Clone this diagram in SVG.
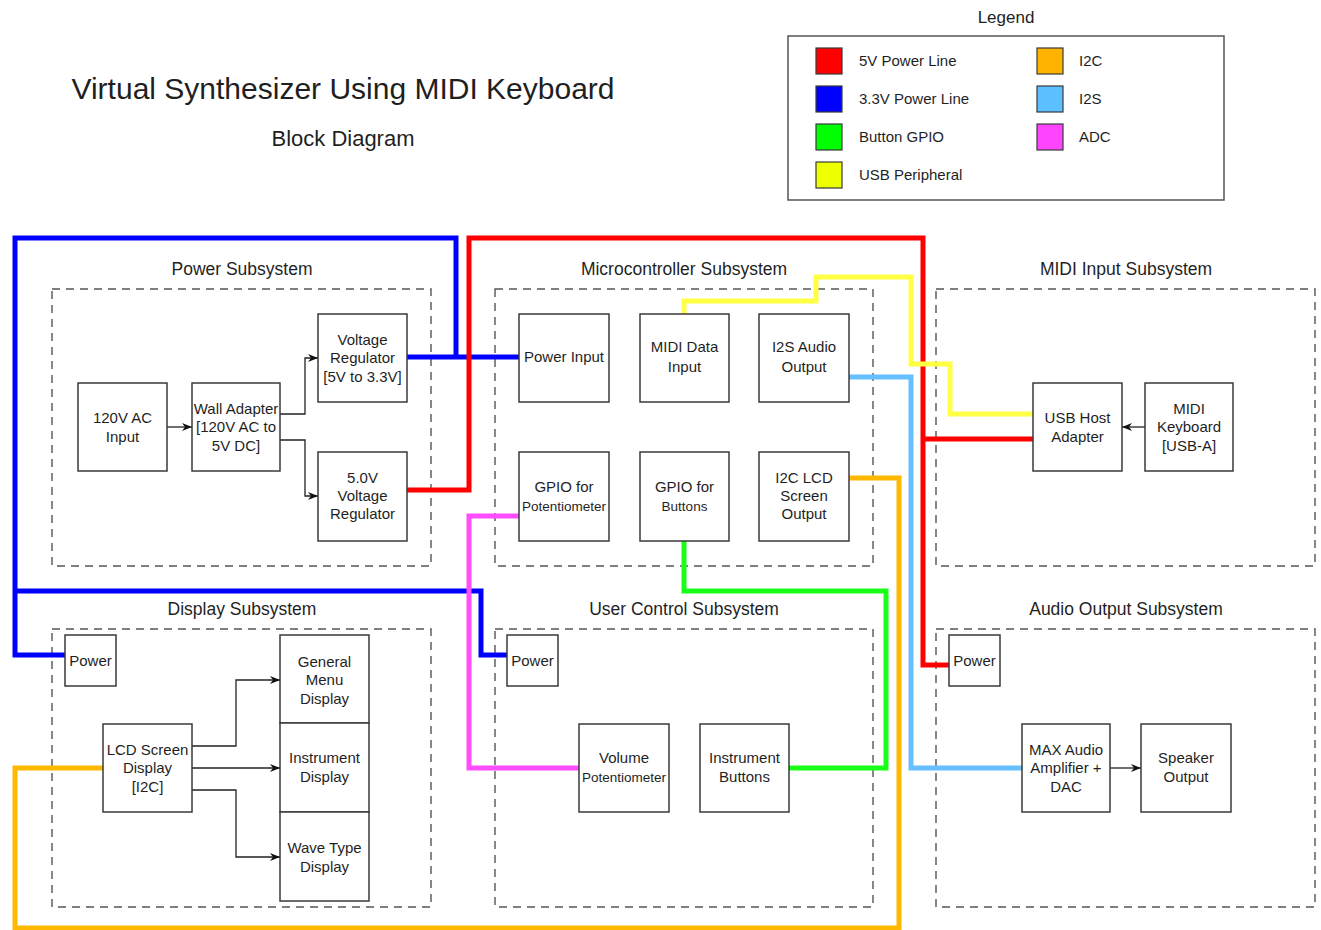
<svg xmlns="http://www.w3.org/2000/svg" width="1321" height="930" viewBox="0 0 1321 930">
  <style>
    text { font-family: "Liberation Sans", Arial, sans-serif; fill: #1f1f1f; }
    .node rect { fill: #ffffff; stroke: #3a3a3a; stroke-width: 1.5; }
    .node text { font-size: 15px; text-anchor: middle; }
    .node text.small { font-size: 13.5px; }
    .group rect { fill: none; stroke: #555555; stroke-width: 1.4; stroke-dasharray: 8 6; }
    .group text { font-size: 17.5px; text-anchor: middle; }
    .bus { fill: none; stroke-width: 5; stroke-linejoin: miter; }
    .flow { fill: none; stroke: #222222; stroke-width: 1.3; marker-end: url(#arrow); }
    .swatch { stroke: #3a3a3a; stroke-width: 1.2; }
    .legend-text { font-size: 15px; }
  </style>
  <defs>
    <marker id="arrow" viewBox="0 0 10 8" refX="10" refY="4" markerWidth="10" markerHeight="8" markerUnits="userSpaceOnUse" orient="auto">
      <path d="M0,0 L10,4 L0,8 L3,4 Z" fill="#111111"/>
    </marker>
  </defs>

  <rect x="0" y="0" width="1321" height="930" fill="#ffffff"/>

  <!-- Titles -->
  <text x="343" y="99" font-size="30" text-anchor="middle">Virtual Synthesizer Using MIDI Keyboard</text>
  <text x="343" y="146" font-size="22" text-anchor="middle">Block Diagram</text>

  <!-- Legend -->
  <g id="legend">
    <text x="1006" y="23" font-size="17" text-anchor="middle">Legend</text>
    <rect x="788" y="36" width="436" height="164" fill="#ffffff" stroke="#555555" stroke-width="1.5"/>
    <rect class="swatch" x="816" y="48" width="26" height="26" fill="#ff0000"/>
    <text class="legend-text" x="859" y="66">5V Power Line</text>
    <rect class="swatch" x="816" y="86" width="26" height="26" fill="#0000ff"/>
    <text class="legend-text" x="859" y="104">3.3V Power Line</text>
    <rect class="swatch" x="816" y="124" width="26" height="26" fill="#00ff00"/>
    <text class="legend-text" x="859" y="142">Button GPIO</text>
    <rect class="swatch" x="816" y="162" width="26" height="26" fill="#eeff00"/>
    <text class="legend-text" x="859" y="180">USB Peripheral</text>
    <rect class="swatch" x="1037" y="48" width="26" height="26" fill="#ffb300"/>
    <text class="legend-text" x="1079" y="66">I2C</text>
    <rect class="swatch" x="1037" y="86" width="26" height="26" fill="#5cbfff"/>
    <text class="legend-text" x="1079" y="104">I2S</text>
    <rect class="swatch" x="1037" y="124" width="26" height="26" fill="#ff44ff"/>
    <text class="legend-text" x="1079" y="142">ADC</text>
  </g>

  <!-- Subsystem frames -->
  <g id="power-subsystem" class="group">
    <text x="242" y="275">Power Subsystem</text>
    <rect x="52" y="289" width="379" height="277"/>
  </g>
  <g id="mcu-subsystem" class="group">
    <text x="684" y="275">Microcontroller Subsystem</text>
    <rect x="495" y="289" width="378" height="277"/>
  </g>
  <g id="midi-subsystem" class="group">
    <text x="1126" y="275">MIDI Input Subsystem</text>
    <rect x="936" y="289" width="379" height="277"/>
  </g>
  <g id="display-subsystem" class="group">
    <text x="242" y="615">Display Subsystem</text>
    <rect x="52" y="629" width="379" height="278"/>
  </g>
  <g id="user-subsystem" class="group">
    <text x="684" y="615">User Control Subsystem</text>
    <rect x="495" y="629" width="378" height="278"/>
  </g>
  <g id="audio-subsystem" class="group">
    <text x="1126" y="615">Audio Output Subsystem</text>
    <rect x="936" y="629" width="379" height="278"/>
  </g>

  <!-- Connectors -->
  <g id="connectors">
    <!-- 3.3V power -->
    <path class="bus" stroke="#0000ff" d="M407,357 H519"/>
    <path class="bus" stroke="#0000ff" d="M456,357 V238 H15 V655 H65"/>
    <path class="bus" stroke="#0000ff" d="M15,591 H481 V655 H507"/>
    <!-- 5V power -->
    <path class="bus" stroke="#ff0000" d="M407,490 H469 V238 H923 V665 H949"/>
    <path class="bus" stroke="#ff0000" d="M923,439 H1033"/>
    <!-- ADC -->
    <path class="bus" stroke="#ff4dff" d="M519,516 H469 V768 H579"/>
    <!-- USB peripheral -->
    <path class="bus" stroke="#ffff44" d="M684,314 V301 H816 V277 H911 V364 H950 V414 H1033"/>
    <!-- I2S -->
    <path class="bus" stroke="#66bfff" d="M849,377 H911 V768 H1022"/>
    <!-- I2C -->
    <path class="bus" stroke="#ffb800" d="M849,478 H899 V928 H15 V768 H103"/>
    <!-- Button GPIO -->
    <path class="bus" stroke="#1aff1a" d="M684,541 V591 H886 V768 H789"/>

    <!-- signal flow -->
    <path class="flow" d="M167,427 H192"/>
    <path class="flow" d="M280,414 H305 V358 H318"/>
    <path class="flow" d="M280,440 H305 V496 H318"/>
    <path class="flow" d="M1145,427 H1122"/>
    <path class="flow" d="M192,746 H236 V680 H280"/>
    <path class="flow" d="M192,768 H280"/>
    <path class="flow" d="M192,790 H236 V857 H280"/>
    <path class="flow" d="M1110,768 H1141"/>
  </g>

  <!-- Power subsystem nodes -->
  <g id="ac-input" class="node">
    <rect x="78" y="383" width="89" height="88"/>
    <text x="122.5" y="423">120V AC</text>
    <text x="122.5" y="442">Input</text>
  </g>
  <g id="wall-adapter" class="node">
    <rect x="192" y="383" width="88" height="88"/>
    <text x="236" y="414">Wall Adapter</text>
    <text x="236" y="432">[120V AC to</text>
    <text x="236" y="451">5V DC]</text>
  </g>
  <g id="reg-3v3" class="node">
    <rect x="318" y="314" width="89" height="88"/>
    <text x="362.5" y="345">Voltage</text>
    <text x="362.5" y="363">Regulator</text>
    <text x="362.5" y="382">[5V to 3.3V]</text>
  </g>
  <g id="reg-5v" class="node">
    <rect x="318" y="452" width="89" height="89"/>
    <text x="362.5" y="483">5.0V</text>
    <text x="362.5" y="501">Voltage</text>
    <text x="362.5" y="519">Regulator</text>
  </g>

  <!-- Microcontroller nodes -->
  <g id="mcu-power" class="node">
    <rect x="519" y="314" width="90" height="88"/>
    <text x="564" y="362">Power Input</text>
  </g>
  <g id="mcu-midi" class="node">
    <rect x="640" y="314" width="89" height="88"/>
    <text x="684.5" y="352">MIDI Data</text>
    <text x="684.5" y="372">Input</text>
  </g>
  <g id="mcu-i2s" class="node">
    <rect x="759" y="314" width="90" height="88"/>
    <text x="804" y="352">I2S Audio</text>
    <text x="804" y="372">Output</text>
  </g>
  <g id="mcu-gpio-pot" class="node">
    <rect x="519" y="452" width="90" height="89"/>
    <text x="564" y="492">GPIO for</text>
    <text class="small" x="564" y="511">Potentiometer</text>
  </g>
  <g id="mcu-gpio-btn" class="node">
    <rect x="640" y="452" width="89" height="89"/>
    <text x="684.5" y="492">GPIO for</text>
    <text class="small" x="684.5" y="511">Buttons</text>
  </g>
  <g id="mcu-i2c" class="node">
    <rect x="759" y="452" width="90" height="89"/>
    <text x="804" y="483">I2C LCD</text>
    <text x="804" y="501">Screen</text>
    <text x="804" y="519">Output</text>
  </g>

  <!-- MIDI input nodes -->
  <g id="usb-host" class="node">
    <rect x="1033" y="383" width="89" height="88"/>
    <text x="1077.5" y="423">USB Host</text>
    <text x="1077.5" y="442">Adapter</text>
  </g>
  <g id="midi-keyboard" class="node">
    <rect x="1145" y="383" width="88" height="88"/>
    <text x="1189" y="414">MIDI</text>
    <text x="1189" y="432">Keyboard</text>
    <text x="1189" y="451">[USB-A]</text>
  </g>

  <!-- Display nodes -->
  <g id="display-power" class="node">
    <rect x="65" y="635" width="51" height="51"/>
    <text x="90.5" y="666">Power</text>
  </g>
  <g id="lcd-screen" class="node">
    <rect x="103" y="724" width="89" height="88"/>
    <text x="147.5" y="755">LCD Screen</text>
    <text x="147.5" y="773">Display</text>
    <text x="147.5" y="792">[I2C]</text>
  </g>
  <g id="menu-display" class="node">
    <rect x="280" y="635" width="89" height="88"/>
    <text x="324.5" y="667">General</text>
    <text x="324.5" y="685">Menu</text>
    <text x="324.5" y="704">Display</text>
  </g>
  <g id="instrument-display" class="node">
    <rect x="280" y="723" width="89" height="89"/>
    <text x="324.5" y="763">Instrument</text>
    <text x="324.5" y="782">Display</text>
  </g>
  <g id="wave-display" class="node">
    <rect x="280" y="812" width="89" height="89"/>
    <text x="324.5" y="853">Wave Type</text>
    <text x="324.5" y="872">Display</text>
  </g>

  <!-- User control nodes -->
  <g id="user-power" class="node">
    <rect x="507" y="635" width="51" height="51"/>
    <text x="532.5" y="666">Power</text>
  </g>
  <g id="volume-pot" class="node">
    <rect x="579" y="724" width="90" height="88"/>
    <text x="624" y="763">Volume</text>
    <text class="small" x="624" y="782">Potentiometer</text>
  </g>
  <g id="instrument-buttons" class="node">
    <rect x="700" y="724" width="89" height="88"/>
    <text x="744.5" y="763">Instrument</text>
    <text x="744.5" y="782">Buttons</text>
  </g>

  <!-- Audio output nodes -->
  <g id="audio-power" class="node">
    <rect x="949" y="635" width="51" height="51"/>
    <text x="974.5" y="666">Power</text>
  </g>
  <g id="max-amp" class="node">
    <rect x="1022" y="724" width="88" height="88"/>
    <text x="1066" y="755">MAX Audio</text>
    <text x="1066" y="773">Amplifier +</text>
    <text x="1066" y="792">DAC</text>
  </g>
  <g id="speaker" class="node">
    <rect x="1141" y="724" width="90" height="88"/>
    <text x="1186" y="763">Speaker</text>
    <text x="1186" y="782">Output</text>
  </g>
</svg>
